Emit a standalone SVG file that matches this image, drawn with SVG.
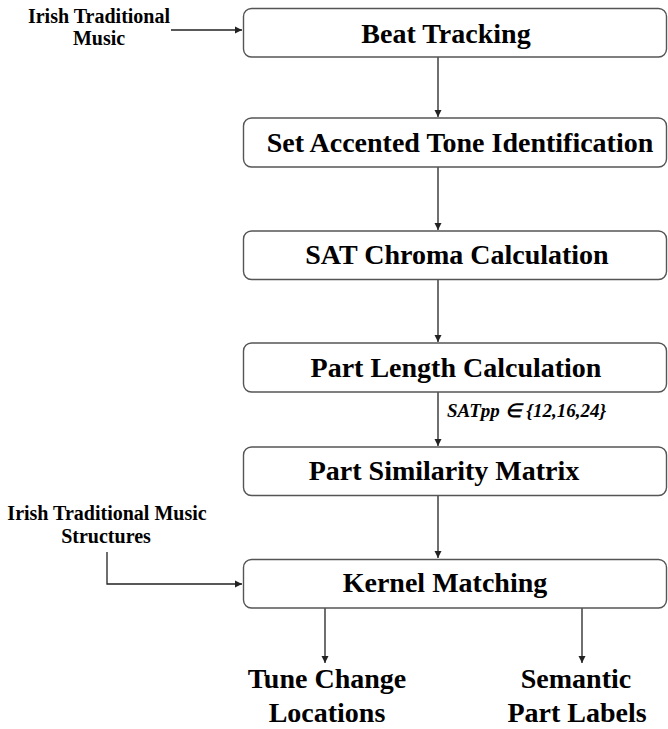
<svg xmlns="http://www.w3.org/2000/svg" width="668" height="729" viewBox="0 0 668 729">
<style>
.box{fill:#fff;stroke:#555;stroke-width:1.4}
.t{font-family:"Liberation Serif",serif;font-weight:bold;font-size:28px;fill:#000;text-anchor:middle}
.s{font-family:"Liberation Serif",serif;font-weight:bold;font-size:20px;fill:#000;text-anchor:middle}
.c{fill:none;stroke:#222;stroke-width:1.3}
.lab{font-family:"Liberation Serif",serif;font-weight:bold;font-style:italic;font-size:19px;fill:#000}
</style>
<defs>
<marker id="ah" markerWidth="8" markerHeight="8" refX="7" refY="4" orient="auto" markerUnits="userSpaceOnUse">
<path d="M0,0.5 L7,4 L0,7.5 Z" fill="#222"/>
</marker>
</defs>
<rect width="668" height="729" fill="#fff"/>
<g id="connectors">
<path class="c" d="M171,30 H242" marker-end="url(#ah)"/>
<path class="c" d="M438,57 V117" marker-end="url(#ah)"/>
<path class="c" d="M438,167 V230" marker-end="url(#ah)"/>
<path class="c" d="M438,279 V342" marker-end="url(#ah)"/>
<path class="c" d="M438,392 V446" marker-end="url(#ah)"/>
<path class="c" d="M438,495 V558" marker-end="url(#ah)"/>
<path class="c" d="M107,552 V584 H242" marker-end="url(#ah)"/>
<path class="c" d="M325,608 V663" marker-end="url(#ah)"/>
<path class="c" d="M582,608 V663" marker-end="url(#ah)"/>
<text class="lab" x="447" y="417">SATpp ∈ {12,16,24}</text>
</g>
<g id="input1">
<text class="s" x="99" y="23">Irish Traditional</text>
<text class="s" x="99" y="45">Music</text>
</g>
<g id="input2">
<text class="s" x="107" y="520">Irish Traditional Music</text>
<text class="s" x="106" y="543">Structures</text>
</g>
<g id="beat">
<rect class="box" x="243.5" y="8.5" width="423" height="48.5" rx="8"/>
<text class="t" x="446" y="43">Beat Tracking</text>
</g>
<g id="sat">
<rect class="box" x="243.5" y="118" width="423" height="49" rx="8"/>
<text class="t" x="460" y="152">Set Accented Tone Identification</text>
</g>
<g id="chroma">
<rect class="box" x="243.5" y="231" width="423" height="48.5" rx="8"/>
<text class="t" x="457" y="264">SAT Chroma Calculation</text>
</g>
<g id="partlen">
<rect class="box" x="243.5" y="343" width="423" height="49" rx="8"/>
<text class="t" x="456" y="377">Part Length Calculation</text>
</g>
<g id="partsim">
<rect class="box" x="243.5" y="447" width="423" height="48.5" rx="8"/>
<text class="t" x="444" y="480">Part Similarity Matrix</text>
</g>
<g id="kernel">
<rect class="box" x="243.5" y="559.5" width="423" height="48.5" rx="8"/>
<text class="t" x="445" y="592">Kernel Matching</text>
</g>
<g id="tune">
<text class="t" x="327" y="688">Tune Change</text>
<text class="t" x="327" y="722">Locations</text>
</g>
<g id="semantic">
<text class="t" x="576" y="688">Semantic</text>
<text class="t" x="577" y="722">Part Labels</text>
</g>
</svg>
